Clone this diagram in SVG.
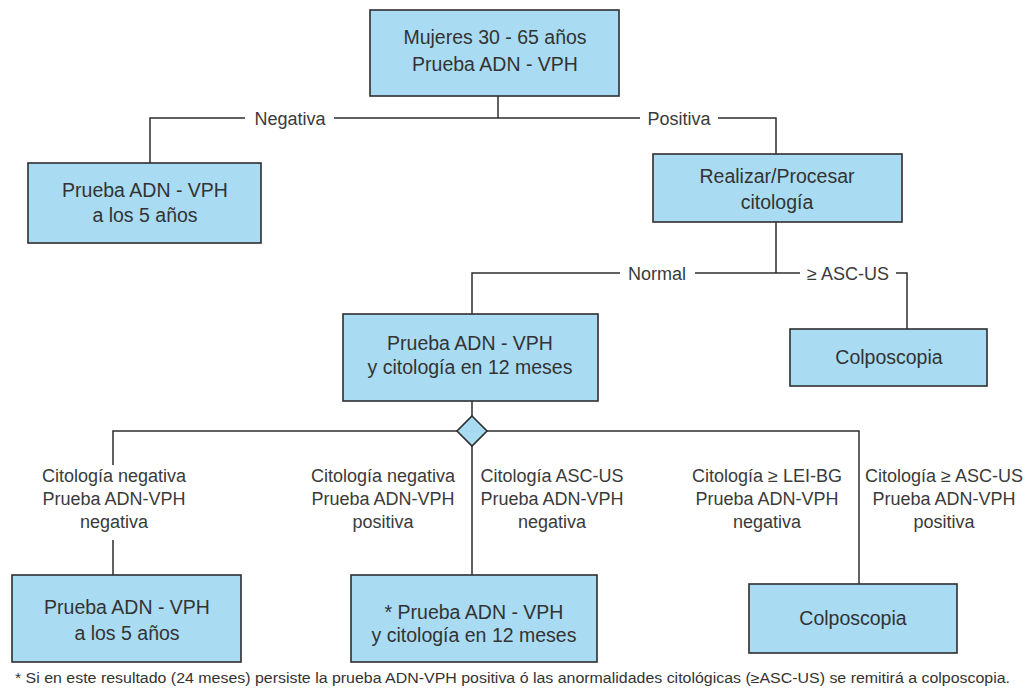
<svg xmlns="http://www.w3.org/2000/svg" width="1026" height="693" viewBox="0 0 1026 693">
<style>
.box{fill:#a9dcf3;stroke:#2e2e2e;stroke-width:1.6}
.bt{font-family:"Liberation Sans",Arial,sans-serif;font-size:19.5px;fill:#333;text-anchor:middle}
.lt{font-family:"Liberation Sans",Arial,sans-serif;font-size:18px;fill:#3a3a3a;text-anchor:middle}
.ln{fill:none;stroke:#2e2e2e;stroke-width:1.5}
.ft{font-family:"Liberation Sans",Arial,sans-serif;font-size:14px;fill:#333}
</style>
<rect width="1026" height="693" fill="#fff"/>
<g id="connectors">
<path class="ln" d="M498 96V118M150 163V118H245M334 118H640M718 118H776V154"/>
<path class="ln" d="M776 222V273M472 314V273H620M695 273H776H800M896 273H907V329"/>
<path class="ln" d="M472 401V416M472 445V575"/>
<path class="ln" d="M113 465V431H457M487 431H859V584M113 540V575"/>
<polygon points="472,416 487,431 472,446 457,431" fill="#a9dcf3" stroke="#2e2e2e" stroke-width="1.6"/>
<text class="lt" x="290" y="125">Negativa</text>
<text class="lt" x="679" y="125">Positiva</text>
<text class="lt" x="657" y="280">Normal</text>
<text class="lt" x="848" y="280">≥ ASC-US</text>
<text class="lt" x="114" y="482">Citología negativa<tspan x="114" y="505">Prueba ADN-VPH</tspan><tspan x="114" y="528">negativa</tspan></text>
<text class="lt" x="383" y="482">Citología negativa<tspan x="383" y="505">Prueba ADN-VPH</tspan><tspan x="383" y="528">positiva</tspan></text>
<text class="lt" x="552" y="482">Citología ASC-US<tspan x="552" y="505">Prueba ADN-VPH</tspan><tspan x="552" y="528">negativa</tspan></text>
<text class="lt" x="767" y="482">Citología ≥ LEI-BG<tspan x="767" y="505">Prueba ADN-VPH</tspan><tspan x="767" y="528">negativa</tspan></text>
<text class="lt" x="944" y="482">Citología ≥ ASC-US<tspan x="944" y="505">Prueba ADN-VPH</tspan><tspan x="944" y="528">positiva</tspan></text>
</g>
<g id="n-start"><rect class="box" x="370" y="10" width="249" height="86"/><text class="bt" x="495" y="44">Mujeres 30 - 65 años<tspan x="495" y="71">Prueba ADN - VPH</tspan></text></g>
<g id="n-neg5"><rect class="box" x="28" y="163" width="233" height="80"/><text class="bt" x="145" y="197">Prueba ADN - VPH<tspan x="145" y="222">a los 5 años</tspan></text></g>
<g id="n-cito"><rect class="box" x="653" y="154" width="249" height="68"/><text class="bt" x="777" y="183">Realizar/Procesar<tspan x="777" y="209">citología</tspan></text></g>
<g id="n-mid"><rect class="box" x="343" y="314" width="255" height="87"/><text class="bt" x="470" y="350">Prueba ADN - VPH<tspan x="470" y="374">y citología en 12 meses</tspan></text></g>
<g id="n-colpo1"><rect class="box" x="790" y="329" width="197" height="57"/><text class="bt" x="889" y="364">Colposcopia</text></g>
<g id="n-bl"><rect class="box" x="12" y="575" width="229" height="87"/><text class="bt" x="127" y="614">Prueba ADN - VPH<tspan x="127" y="640">a los 5 años</tspan></text></g>
<g id="n-bm"><rect class="box" x="351" y="575" width="246" height="87"/><text class="bt" x="474" y="619">* Prueba ADN - VPH<tspan x="474" y="642">y citología en 12 meses</tspan></text></g>
<g id="n-br"><rect class="box" x="749" y="584" width="208" height="69"/><text class="bt" x="853" y="625">Colposcopia</text></g>
<text class="ft" x="15" y="683" textLength="995" lengthAdjust="spacingAndGlyphs">* Si en este resultado (24 meses) persiste la prueba ADN-VPH positiva ó las anormalidades citológicas (≥ASC-US) se remitirá a colposcopia.</text>
</svg>
